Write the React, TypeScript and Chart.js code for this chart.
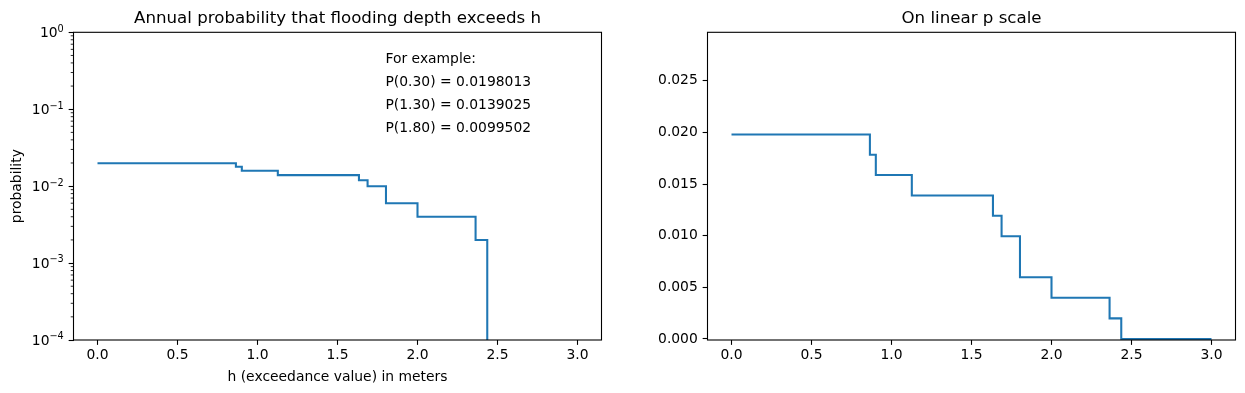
import React, { useEffect, useRef } from 'react';
import { Chart, registerables } from 'chart.js';

Chart.register(...registerables);

// ---------- data ----------
const hBreaks = [0, 0.865, 0.902, 1.127, 1.634, 1.688, 1.803, 2.0, 2.363, 2.436, 3.0];
const exceedProb = [0.0198013, 0.017839, 0.0158727, 0.0139025, 0.0119283, 0.0099502, 0.005982, 0.003992, 0.001998, 0, 0];

const xTicks = [0, 0.5, 1, 1.5, 2, 2.5, 3];
const xTickLabels = ['0.0', '0.5', '1.0', '1.5', '2.0', '2.5', '3.0'];
const logTicks = [1e-4, 1e-3, 1e-2, 1e-1, 1];
const logTickBase = '10';
const logTickExp = ['−4', '−3', '−2', '−1', '0'];
const minorMultipliers = [2, 3, 4, 5, 6, 7, 8, 9];
const minorDecades = [1e-4, 1e-3, 1e-2, 1e-1];
const linTicks = [0, 0.005, 0.01, 0.015, 0.02, 0.025];
const linTickLabels = ['0.000', '0.005', '0.010', '0.015', '0.020', '0.025'];

const noteLines = ['For example:', 'P(0.30) = 0.0198013', 'P(1.30) = 0.0139025', 'P(1.80) = 0.0099502'];
const noteY = [0.4, 0.2, 0.1, 0.05];
const noteX = 1.8;

const titles = ['Annual probability that flooding depth exceeds h', 'On linear p scale'];
const xTitle = 'h (exceedance value) in meters';
const yTitle = 'probability';

// ---------- style ----------
const FAMILY = "'DejaVu Sans', sans-serif";
const FS = 13.89;
const SUPFS = 9.72;
const TFS = 16.67;
const LINE = '#1f77b4';
const LOG_FLOOR = 1e-12; // log(0) is off-scale, clipped like matplotlib

const CW = 675;
const CH = 393;
const YAXIS_W = 73.5;
const XAXIS_H = 53;
const TICK_LEN = 4.86;
const TICK_PAD = 4.86;

const framePlugin = {
  id: 'mplFrame',
  afterDatasetsDraw(chart: any) {
    const { ctx, chartArea: a } = chart;
    ctx.save();
    ctx.strokeStyle = '#000';
    ctx.lineWidth = 1.1;
    ctx.strokeRect(a.left, a.top, a.right - a.left, a.bottom - a.top);
    ctx.restore();
  },
};

const logAxisPlugin = {
  id: 'mplLogAxis',
  afterDraw(chart: any) {
    const { ctx, chartArea: a } = chart;
    const y = chart.scales.y;
    ctx.save();
    // minor ticks
    ctx.strokeStyle = '#000';
    ctx.lineWidth = 0.83;
    ctx.beginPath();
    for (const d of minorDecades) {
      for (const m of minorMultipliers) {
        const py = y.getPixelForValue(m * d);
        ctx.moveTo(a.left - 2.78, py);
        ctx.lineTo(a.left, py);
      }
    }
    ctx.stroke();
    // major labels: 10 with superscript exponent
    ctx.fillStyle = '#000';
    ctx.textBaseline = 'alphabetic';
    ctx.textAlign = 'left';
    const xr = a.left - TICK_LEN - TICK_PAD;
    logTicks.forEach((v, i) => {
      const py = y.getPixelForValue(v);
      ctx.font = `${SUPFS}px ${FAMILY}`;
      const ew = ctx.measureText(logTickExp[i]).width;
      ctx.font = `${FS}px ${FAMILY}`;
      const bw = ctx.measureText(logTickBase).width;
      const base = py + 5.0;
      ctx.fillText(logTickBase, xr - ew - bw, base);
      ctx.font = `${SUPFS}px ${FAMILY}`;
      ctx.fillText(logTickExp[i], xr - ew, base - 5.6);
    });
    ctx.restore();
  },
};

const notePlugin = {
  id: 'mplNote',
  afterDraw(chart: any) {
    const { ctx } = chart;
    const x = chart.scales.x.getPixelForValue(noteX);
    ctx.save();
    ctx.fillStyle = '#000';
    ctx.font = `${FS}px ${FAMILY}`;
    ctx.textAlign = 'left';
    ctx.textBaseline = 'alphabetic';
    noteLines.forEach((t, i) => {
      ctx.fillText(t, x, chart.scales.y.getPixelForValue(noteY[i]));
    });
    ctx.restore();
  },
};

function makeConfig(kind: 'log' | 'lin'): any {
  const isLog = kind === 'log';
  const font = { family: FAMILY, size: FS };
  const data = hBreaks.map((h, i) => ({
    x: h,
    y: isLog ? (exceedProb[i] > 0 ? exceedProb[i] : LOG_FLOOR) : exceedProb[i],
  }));
  const yTickVals = isLog ? logTicks : linTicks;
  return {
    type: 'line',
    data: {
      datasets: [
        {
          data,
          borderColor: LINE,
          backgroundColor: LINE,
          borderWidth: 2.08,
          pointRadius: 0,
          stepped: true,
          fill: false,
          clip: 0,
          borderJoinStyle: 'miter',
        },
      ],
    },
    options: {
      animation: false,
      responsive: false,
      events: [],
      layout: { padding: 0 },
      plugins: {
        legend: { display: false },
        tooltip: { enabled: false },
        title: {
          display: true,
          text: isLog ? titles[0] : titles[1],
          color: '#000',
          font: { family: FAMILY, size: TFS, weight: 'normal' },
          padding: { top: 8.5, bottom: 3.8 },
        },
      },
      scales: {
        x: {
          type: 'linear',
          min: -0.15,
          max: 3.15,
          afterBuildTicks: (s: any) => {
            s.ticks = xTicks.map((v) => ({ value: v }));
          },
          afterFit: (s: any) => {
            s.height = XAXIS_H;
          },
          ticks: {
            callback: (_v: any, i: number) => xTickLabels[i],
            autoSkip: false,
            maxRotation: 0,
            padding: 2.5,
            color: '#000',
            font,
          },
          grid: {
            drawOnChartArea: false,
            drawTicks: true,
            tickLength: TICK_LEN,
            tickWidth: 1.1,
            tickColor: '#000',
          },
          border: { display: false },
          title: {
            display: isLog,
            text: xTitle,
            color: '#000',
            font,
            padding: { top: 0, bottom: 7.7 },
          },
        },
        y: {
          type: isLog ? 'logarithmic' : 'linear',
          min: isLog ? 1e-4 : -0.0001,
          max: isLog ? 1 : 0.0297,
          afterBuildTicks: (s: any) => {
            s.ticks = yTickVals.map((v) => ({ value: v }));
          },
          afterFit: (s: any) => {
            s.width = YAXIS_W;
          },
          ticks: {
            display: !isLog,
            callback: (_v: any, i: number) => (isLog ? logTickBase + logTickExp[i] : linTickLabels[i]),
            autoSkip: false,
            padding: TICK_PAD,
            color: '#000',
            font,
          },
          grid: {
            drawOnChartArea: false,
            drawTicks: true,
            tickLength: TICK_LEN,
            tickWidth: 1.1,
            tickColor: '#000',
          },
          border: { display: false },
          title: {
            display: isLog,
            text: yTitle,
            color: '#000',
            font,
            padding: { top: 8.7, bottom: 0 },
          },
        },
        yr: {
          type: 'linear',
          position: 'right',
          display: true,
          grid: { display: false },
          ticks: { display: false },
          border: { display: false },
          afterFit: (s: any) => {
            s.width = YAXIS_W;
          },
        },
      },
    },
    plugins: isLog ? [framePlugin, logAxisPlugin, notePlugin] : [framePlugin],
  };
}

function Panel({ left, kind }: { left: number; kind: 'log' | 'lin' }) {
  const ref = useRef<HTMLCanvasElement>(null);
  useEffect(() => {
    if (!ref.current) return;
    const chart = new Chart(ref.current, makeConfig(kind));
    return () => chart.destroy();
  }, [kind]);
  return (
    <canvas
      ref={ref}
      width={CW}
      height={CH}
      style={{ position: 'absolute', left, top: 0, width: CW, height: CH }}
    />
  );
}

export default function App() {
  return (
    <div
      style={{
        position: 'absolute',
        left: 0,
        top: 0,
        width: 1245,
        height: 393,
        overflow: 'hidden',
        background: '#fff',
      }}
    >
      <Panel left={0} kind="log" />
      <Panel left={634} kind="lin" />
    </div>
  );
}
